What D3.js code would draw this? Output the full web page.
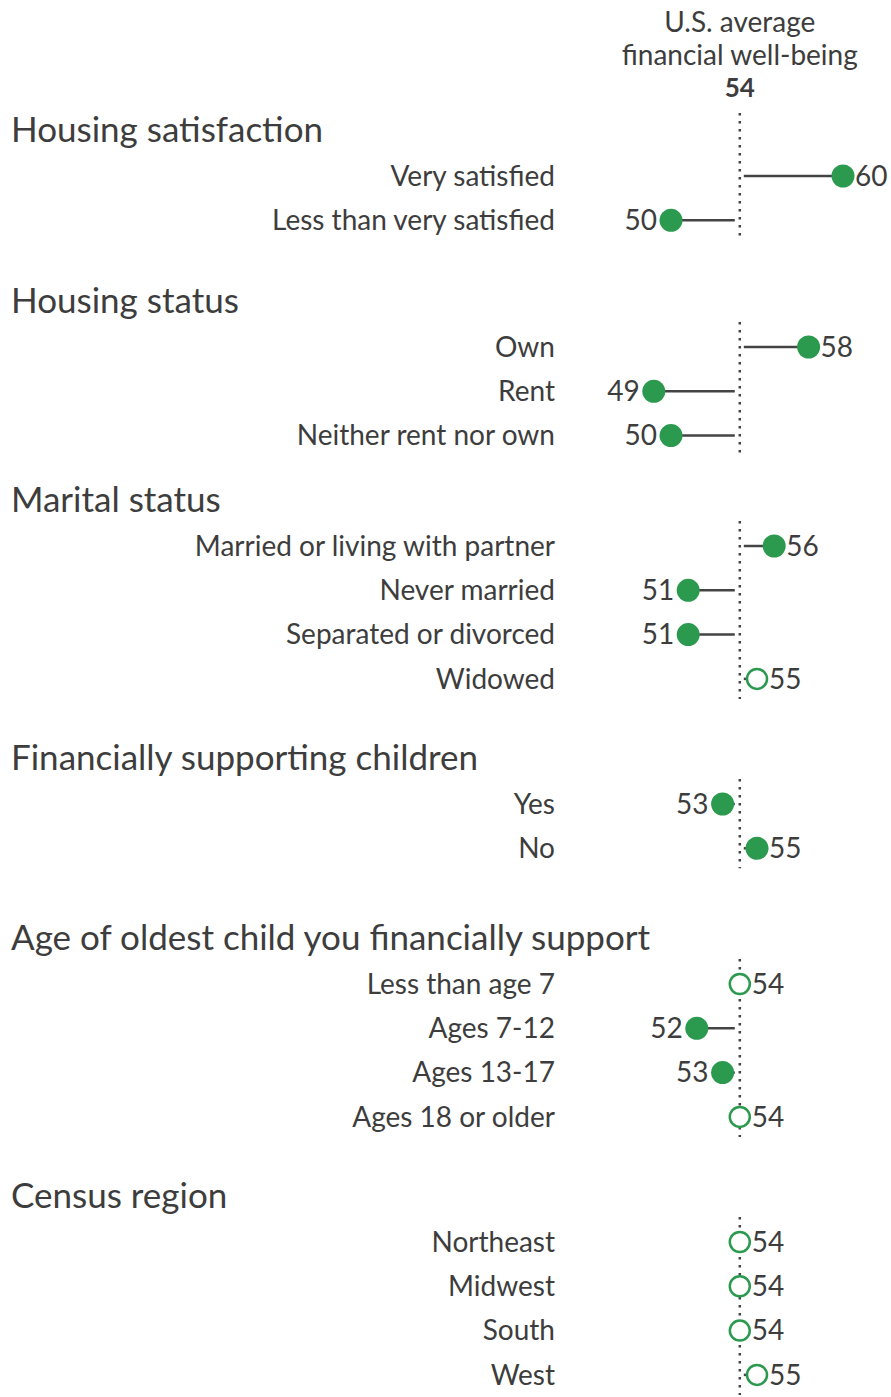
<!DOCTYPE html>
<html>
<head>
<meta charset="utf-8">
<script src="https://cdn.jsdelivr.net/npm/d3@7"></script>
<style>
  body { margin: 0; background: #fff; }
  text { font-family: Lato, "Open Sans", sans-serif; fill: #3d3d3d; }
</style>
</head>
<body>
<div id="chart"></div>
<script>
// groups, row labels and scores
var groupNames = ["Housing satisfaction", "Housing status", "Marital status",
  "Financially supporting children", "Age of oldest child you financially support", "Census region"];

var rowLabels = [
  ["Very satisfied", "Less than very satisfied"],
  ["Own", "Rent", "Neither rent nor own"],
  ["Married or living with partner", "Never married", "Separated or divorced", "Widowed"],
  ["Yes", "No"],
  ["Less than age 7", "Ages 7-12", "Ages 13-17", "Ages 18 or older"],
  ["Northeast", "Midwest", "South", "West"]
];

// "Ages 7-12" is labelled 52 but plotted lower, so an in-between estimate
var scores = [
  [60, 50],
  [58, 49, 50],
  [56, 51, 51, 55],
  [53, 55],
  [54, 51.5, 53, 54],
  [54, 54, 54, 55]
];

// filled = statistically different from the average, hollow = not
var significant = [
  [true, true],
  [true, true, true],
  [true, true, true, false],
  [true, true],
  [false, true, true, false],
  [false, false, false, false]
];

var usAverage = 54;

var width = 891;
var height = 1397;
var green = "#2b9a4f";
var fmt = d3.format(".0f");

// title positions of each block (layout)
var titleY = [130, 301, 500, 758, 938, 1196];
var rowStep = 44.3;

var svg = d3.select("#chart")
  .append("svg")
    .attr("width", width)
    .attr("height", height)

var x = d3.scaleLinear()
  .domain([50, 60])
  .range([671, 843]);

// header over the reference line
var header = svg.append("g");
header.append("text")
  .attr("x", x(usAverage)).attr("y", 22).attr("dy", "0.35em")
  .attr("text-anchor", "middle").style("font-size", "28px")
  .text("U.S. average");
header.append("text")
  .attr("x", x(usAverage)).attr("y", 55).attr("dy", "0.35em")
  .attr("text-anchor", "middle").style("font-size", "28px")
  .text("financial well-being");
header.append("text")
  .attr("x", x(usAverage)).attr("y", 88).attr("dy", "0.35em")
  .attr("text-anchor", "middle").style("font-size", "26px").style("font-weight", "bold")
  .text(usAverage);

groupNames.forEach(function(name, gi) {
  var rows = rowLabels[gi].map(function(label, i) {
    return { label: label, value: scores[gi][i], sig: significant[gi][i], y: titleY[gi] + 46 + i * rowStep };
  });

  var g = svg.append("g");

  g.append("text")
    .attr("x", 11).attr("y", titleY[gi]).attr("dy", "0.35em")
    .style("font-size", "35px")
    .text(name);

  // dotted average line, one piece per block
  var top = gi == 0 ? 113 : rows[0].y - 25;
  g.append("line")
    .attr("x1", x(usAverage)).attr("x2", x(usAverage))
    .attr("y1", top).attr("y2", rows[rows.length - 1].y + 20)
    .attr("stroke", "#444")
    .attr("stroke-width", 2.5)
    .attr("stroke-dasharray", "2.5,5.5");

  g.selectAll(".lbl")
    .data(rows)
    .enter()
    .append("text")
      .attr("x", 555)
      .attr("y", function(d) { return d.y; })
      .attr("dy", "0.35em")
      .attr("text-anchor", "end")
      .style("font-size", "28px")
      .text(function(d) { return d.label; });

  g.selectAll(".stem")
    .data(rows.filter(function(d) { return d.value != usAverage; }))
    .enter()
    .append("line")
      .attr("x1", function(d) { return d.value > usAverage ? x(usAverage) + 4 : x(usAverage) - 5; })
      .attr("x2", function(d) { return x(d.value); })
      .attr("y1", function(d) { return d.y; })
      .attr("y2", function(d) { return d.y; })
      .attr("stroke", "#444")
      .attr("stroke-width", 2.5);

  g.selectAll(".dot")
    .data(rows)
    .enter()
    .append("circle")
      .attr("cx", function(d) { return x(d.value); })
      .attr("cy", function(d) { return d.y; })
      .attr("r", function(d) { return d.sig ? 11.5 : 10; })
      .style("fill", function(d) { return d.sig ? green : "#fff"; })
      .attr("stroke", green)
      .style("stroke-width", function(d) { return d.sig ? 0 : 2.5; });

  g.selectAll(".val")
    .data(rows)
    .enter()
    .append("text")
      .attr("x", function(d) { return d.value < usAverage ? x(d.value) - 14 : x(d.value) + 12; })
      .attr("y", function(d) { return d.y; })
      .attr("dy", "0.35em")
      .attr("text-anchor", function(d) { return d.value < usAverage ? "end" : "start"; })
      .style("font-size", "28px")
      .text(function(d) { return fmt(d.value); });
});
</script>
</body>
</html>
